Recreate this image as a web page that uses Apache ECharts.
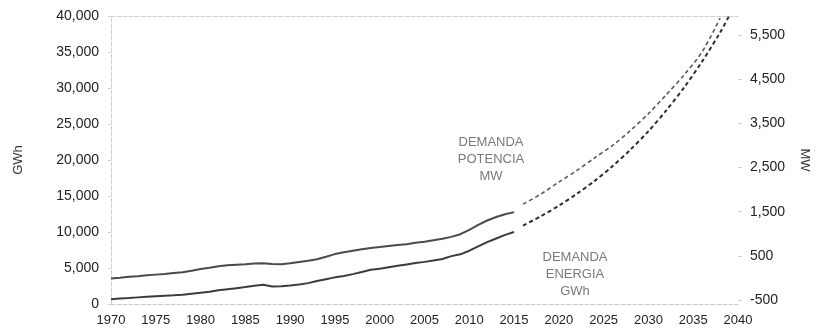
<!DOCTYPE html>
<html>
<head>
<meta charset="utf-8">
<script src="https://cdn.jsdelivr.net/npm/echarts@6/dist/echarts.min.js"></script>
<style>
  html, body { margin: 0; padding: 0; background: #fff; }
  #chart { width: 819px; height: 333px; }
</style>
</head>
<body>
<div id="chart"></div>
<script>
// historic series (solid)
const histYears = [1970, 1971, 1972, 1973, 1974, 1975, 1976, 1977, 1978, 1979,
  1980, 1981, 1982, 1983, 1984, 1985, 1986, 1987, 1988, 1989,
  1990, 1991, 1992, 1993, 1994, 1995, 1996, 1997, 1998, 1999,
  2000, 2001, 2002, 2003, 2004, 2005, 2006, 2007, 2008, 2009,
  2010, 2011, 2012, 2013, 2014, 2015];
const energiaGWh = [650, 750, 830, 920, 1000, 1080, 1150, 1220, 1300, 1430,
  1560, 1700, 1900, 2050, 2200, 2350, 2550, 2680, 2420, 2480,
  2560, 2700, 2900, 3200, 3450, 3700, 3900, 4150, 4450, 4750,
  4900, 5100, 5300, 5500, 5700, 5850, 6050, 6250, 6650, 6900,
  7400, 8000, 8600, 9100, 9600, 10000];
const potenciaMW = [-10, 5, 25, 40, 60, 75, 90, 110, 130, 165,
  200, 230, 265, 285, 300, 310, 325, 335, 315, 310,
  330, 360, 390, 425, 480, 540, 580, 615, 650, 680,
  700, 725, 745, 765, 795, 820, 855, 885, 930, 990,
  1090, 1200, 1300, 1380, 1440, 1490];

// projections (dashed)
const projYearsGWh = [2016, 2018, 2020, 2022, 2024, 2026, 2028, 2030, 2032, 2034, 2036, 2038, 2039];
const projEnergiaGWh = [10900, 12200, 13650, 15300, 17100, 19150, 21450, 24000, 26900, 30100, 33700, 37700, 40000];
const projYearsMW = [2016, 2018, 2020, 2022, 2024, 2026, 2028, 2030, 2032, 2034, 2036, 2038];
const projPotenciaMW = [1670, 1900, 2170, 2430, 2720, 3000, 3340, 3720, 4150, 4600, 5120, 5880];

// right axis tick labels
const mwTicks = [-500, 500, 1500, 2500, 3500, 4500, 5500];

const FONT = "'Liberation Sans', Arial, sans-serif";
const pair = (xs, ys) => xs.map((x, i) => [x, ys[i]]);

const chart = echarts.init(document.getElementById("chart"));

chart.setOption({
  backgroundColor: "#fff",
  animation: false,
  grid: { left: 111, right: 79, top: 16, bottom: 29 },
  xAxis: [
    {
      type: "value",
      min: 1970,
      max: 2040,
      interval: 5,
      axisLine: { onZero: false, lineStyle: { color: "#c8c8c8", type: "dashed", width: 1 } },
      axisTick: { show: false },
      splitLine: { show: false },
      axisLabel: {
        color: "#222",
        fontSize: 13,
        fontFamily: FONT,
        margin: 10,
        formatter: (v) => String(v),
      },
    },
    {
      type: "value",
      position: "top",
      min: 1970,
      max: 2040,
      axisLine: { show: true, onZero: false, lineStyle: { color: "#cfcfcf", type: "dashed", width: 1 } },
      axisTick: { show: false },
      axisLabel: { show: false },
      splitLine: { show: false },
    },
  ],
  yAxis: [
    {
      type: "value",
      min: 0,
      max: 40000,
      interval: 5000,
      name: "GWh",
      nameLocation: "middle",
      nameGap: 86,
      nameTextStyle: { color: "#333", fontSize: 13, fontFamily: FONT },
      axisLine: { show: true, onZero: false, lineStyle: { color: "#d0d0d0", type: "dashed" } },
      axisTick: { show: true, length: 3, lineStyle: { color: "#d0d0d0" } },
      splitLine: { show: false },
      axisLabel: { color: "#222", fontSize: 14, fontFamily: FONT, margin: 12 },
    },
    {
      type: "value",
      min: -590,
      max: 5930,
      position: "right",
      name: "MW",
      nameLocation: "middle",
      nameRotate: -90,
      nameGap: 60,
      nameTextStyle: { color: "#333", fontSize: 13, fontFamily: FONT },
      axisLine: { show: false, onZero: false },
      axisTick: { show: true, length: 4, customValues: mwTicks, lineStyle: { color: "#d0d0d0" } },
      splitLine: { show: false },
      axisLabel: {
        color: "#222",
        fontSize: 14,
        fontFamily: FONT,
        margin: 12,
        customValues: mwTicks,
      },
    },
  ],
  series: [
    {
      type: "line",
      name: "energia",
      yAxisIndex: 0,
      data: pair(histYears, energiaGWh),
      showSymbol: false,
      lineStyle: { color: "#3c3c3c", width: 2 },
    },
    {
      type: "line",
      name: "potencia",
      yAxisIndex: 1,
      data: pair(histYears, potenciaMW),
      showSymbol: false,
      lineStyle: { color: "#4a4a4a", width: 2 },
    },
    {
      type: "line",
      name: "energia proy",
      yAxisIndex: 0,
      data: pair(projYearsGWh, projEnergiaGWh),
      showSymbol: false,
      smooth: 0.3,
      lineStyle: { color: "#2e2e2e", width: 2, type: [4, 3] },
    },
    {
      type: "line",
      name: "potencia proy",
      yAxisIndex: 1,
      data: pair(projYearsMW, projPotenciaMW),
      showSymbol: false,
      smooth: 0.3,
      lineStyle: { color: "#5a5a5a", width: 1.6, type: [4, 3] },
    },
  ],
  graphic: [
    {
      type: "text",
      x: 491,
      y: 134,
      style: {
        text: "DEMANDA\nPOTENCIA\nMW",
        align: "center",
        verticalAlign: "top",
        lineHeight: 17,
        fill: "#7a7a7a",
        font: "13px " + FONT,
      },
    },
    {
      type: "text",
      x: 575,
      y: 249,
      style: {
        text: "DEMANDA\nENERGIA\nGWh",
        align: "center",
        verticalAlign: "top",
        lineHeight: 17,
        fill: "#7a7a7a",
        font: "13px " + FONT,
      },
    },
  ],
});
</script>
</body>
</html>
